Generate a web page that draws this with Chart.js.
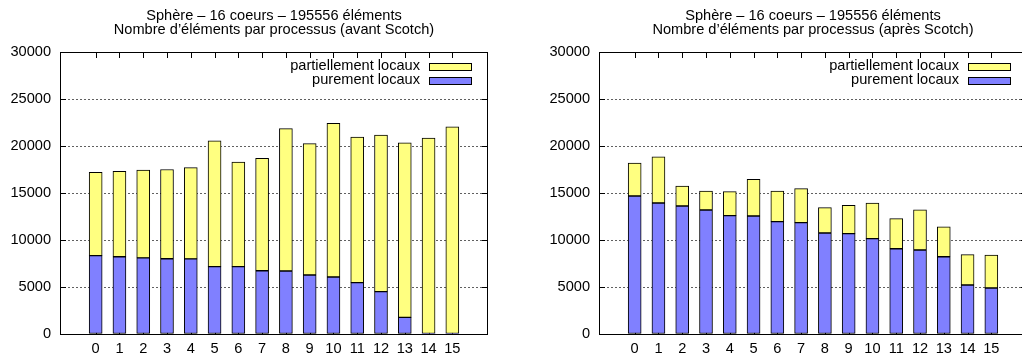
<!DOCTYPE html>
<html>
<head>
<meta charset="utf-8">
<title>Sphère – 16 coeurs – 195556 éléments</title>
<script src="https://cdn.jsdelivr.net/npm/chart.js@4.4.1/dist/chart.umd.min.js"></script>
<style>
  html, body { margin: 0; padding: 0; background: #fff; overflow: hidden; width: 1022px; height: 359px; }
  .panel { position: absolute; top: 0; width: 511px; height: 359px; }
  #panelAvant { left: 0; }
  #panelApres { left: 539px; }
  canvas { display: block; }
</style>
</head>
<body>
<div class="panel" id="panelAvant"><canvas id="chartAvant" width="511" height="359"></canvas></div>
<div class="panel" id="panelApres"><canvas id="chartApres" width="511" height="359"></canvas></div>
<script>
// Processus (coeurs) 0..15
const processes = [0, 1, 2, 3, 4, 5, 6, 7, 8, 9, 10, 11, 12, 13, 14, 15];
const yTicks = [0, 5000, 10000, 15000, 20000, 25000, 30000];

const titleLine1 = 'Sphère – 16 coeurs – 195556 éléments';
const titleAvant = 'Nombre d’éléments par processus (avant Scotch)';
const titleApres = 'Nombre d’éléments par processus (après Scotch)';

const labelPurement = 'purement locaux';
const labelPartiel = 'partiellement locaux';

// Avant Scotch
const avantPurement = [8330, 8220, 8090, 8010, 8000, 7160, 7160, 6730, 6700, 6280, 6060, 5460, 4500, 1770, 0, 0];
const avantPartiel  = [8860, 9080, 9360, 9490, 9700, 13390, 11140, 11970, 15150, 13970, 16340, 15490, 16650, 18580, 20850, 22050];

// Après Scotch
const apresPurement = [14680, 13940, 13620, 13190, 12590, 12550, 11950, 11840, 10740, 10670, 10140, 9070, 8940, 8220, 5210, 4890];
const apresPartiel  = [3510, 4920, 2120, 2020, 2550, 3900, 3260, 3620, 2700, 3010, 3800, 3200, 4280, 3190, 3230, 3510];

const FONT = '"Liberation Sans", Arial, Helvetica, sans-serif';
const FONT_SIZE = 14.6;
const BLUE = '#8080ff';
const YELLOW = '#ffff80';

// gnuplot-style border with inward ticks on all four sides
const framePlugin = {
  id: 'frameTicks',
  beforeDatasetsDraw(chart) {
    const { ctx, chartArea: a, scales } = chart;
    const tl = 6;
    ctx.save();
    ctx.strokeStyle = '#000';
    ctx.lineWidth = 1;
    ctx.beginPath();
    yTicks.forEach(v => {
      const y = Math.round(scales.y.getPixelForValue(v)) + 0.5;
      ctx.moveTo(a.left, y); ctx.lineTo(a.left + tl, y);
      ctx.moveTo(a.right, y); ctx.lineTo(a.right - tl, y);
    });
    processes.forEach(p => {
      const x = Math.round(scales.x.getPixelForValue(p)) + 0.5;
      ctx.moveTo(x, a.top); ctx.lineTo(x, a.top + tl);
      ctx.moveTo(x, a.bottom); ctx.lineTo(x, a.bottom - tl);
    });
    ctx.stroke();
    ctx.restore();
  },
  afterDatasetsDraw(chart) {
    const { ctx, chartArea: a } = chart;
    ctx.save();
    ctx.strokeStyle = '#000';
    ctx.lineWidth = 1;
    ctx.strokeRect(Math.round(a.left) + 0.5, Math.round(a.top) + 0.5,
                   Math.round(a.right - a.left) - 1, Math.round(a.bottom - a.top));
    ctx.restore();
  }
};

// Key in the top right corner of the plot, text to the left of the sample box
const keyPlugin = {
  id: 'insideKey',
  afterDraw(chart) {
    const { ctx, chartArea: a } = chart;
    const items = chart.data.datasets.slice().reverse();
    const boxW = 42, boxH = 7;
    const boxRight = a.right - 17;
    ctx.save();
    ctx.font = FONT_SIZE + 'px ' + FONT;
    ctx.textAlign = 'right';
    ctx.textBaseline = 'middle';
    items.forEach((ds, i) => {
      const cy = a.top + 14 + i * 14;
      ctx.fillStyle = '#000';
      ctx.fillText(ds.label, boxRight - boxW - 9, cy);
      ctx.fillStyle = ds.backgroundColor;
      ctx.fillRect(boxRight - boxW + 0.5, Math.round(cy - boxH / 2) + 0.5, boxW, boxH);
      ctx.strokeStyle = '#000';
      ctx.lineWidth = 1;
      ctx.strokeRect(boxRight - boxW + 0.5, Math.round(cy - boxH / 2) + 0.5, boxW, boxH);
    });
    ctx.restore();
  }
};

// empty segments (value 0) get no outline
const segmentBorder = c => (c.raw && c.raw.y === 0) ? 0 : 1;

function makeChart(canvasId, subtitle, purement, partiel) {
  const toPoints = arr => processes.map((p, i) => ({ x: p, y: arr[i] }));
  return new Chart(document.getElementById(canvasId), {
    type: 'bar',
    data: {
      datasets: [
        {
          label: labelPurement,
          data: toPoints(purement),
          backgroundColor: BLUE,
          borderColor: '#000',
          borderWidth: segmentBorder,
          borderSkipped: false,
          barThickness: 13
        },
        {
          label: labelPartiel,
          data: toPoints(partiel),
          backgroundColor: YELLOW,
          borderColor: '#000',
          borderWidth: segmentBorder,
          borderSkipped: false,
          barThickness: 13
        }
      ]
    },
    options: {
      responsive: false,
      animation: false,
      devicePixelRatio: 1,
      layout: { padding: { left: 0, right: 23, top: 0, bottom: 0 } },
      plugins: {
        legend: { display: false },
        tooltip: { enabled: false },
        title: {
          display: true,
          fullSize: false,
          text: [titleLine1, subtitle],
          color: '#000',
          font: { family: FONT, size: FONT_SIZE, weight: 'normal', lineHeight: '14px' },
          padding: { top: 8.5, bottom: 15.5 }
        }
      },
      scales: {
        x: {
          type: 'linear',
          stacked: true,
          min: -1,
          max: 16,
          grid: { display: false, drawTicks: false },
          border: { display: false },
          ticks: {
            stepSize: 1,
            autoSkip: false,
            maxRotation: 0,
            padding: 6,
            color: '#000',
            font: { family: FONT, size: FONT_SIZE },
            callback: v => (v >= 0 && v <= 15) ? String(processes[v]) : ''
          },
          afterFit: s => { s.height = 25; }
        },
        y: {
          stacked: true,
          min: 0,
          max: 30000,
          grid: {
            drawTicks: false,
            lineWidth: 1,
            color: c => (c.tick && (c.tick.value === 0 || c.tick.value === 30000)) ? 'rgba(0,0,0,0)' : '#606060'
          },
          border: { display: false, dash: [2, 2] },
          ticks: {
            stepSize: 5000,
            padding: 9,
            color: '#000',
            font: { family: FONT, size: FONT_SIZE },
            callback: v => String(v)
          },
          afterFit: s => { s.width = 60; }
        }
      }
    },
    plugins: [framePlugin, keyPlugin]
  });
}

makeChart('chartAvant', titleAvant, avantPurement, avantPartiel);
makeChart('chartApres', titleApres, apresPurement, apresPartiel);
</script>
</body>
</html>
